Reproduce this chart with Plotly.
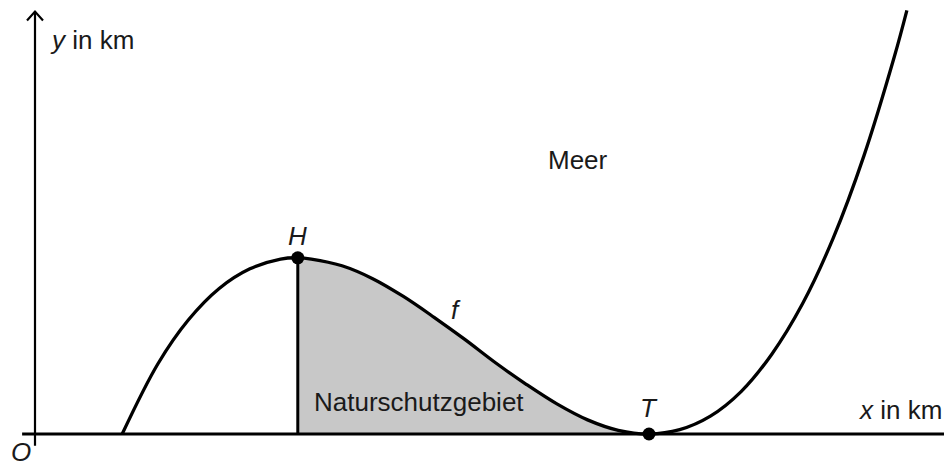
import plotly.graph_objects as go

# points (x in km, y in km)
x_curve = [1.42, 2.0, 2.5, 3.0, 3.5, 4.0, 4.28, 4.5, 5.0, 5.5, 6.0, 6.5, 7.0, 7.5,
           8.0, 8.5, 9.0, 9.5, 10.0, 10.5, 11.0, 11.5, 12.0, 12.5, 13.0, 13.5, 14.0, 14.2]
y_curve = [0.0, 1.14, 1.86, 2.37, 2.69, 2.85, 2.87, 2.85, 2.74, 2.53, 2.24, 1.90, 1.54, 1.16,
           0.81, 0.49, 0.23, 0.06, 0.0, 0.07, 0.29, 0.69, 1.30, 2.12, 3.19, 4.53, 6.16, 6.90]

# high point H and low point T
h_x, h_y = 4.28, 2.87
t_x, t_y = 10.0, 0.0

font = "Liberation Sans, Arial, sans-serif"
fs = 26
k = 61.4  # px per km, only used to size the arrow heads

# shaded area between H and T
x_area = [x for x in x_curve if h_x <= x <= t_x]
y_area = [y for x, y in zip(x_curve, y_curve) if h_x <= x <= t_x]

fig = go.Figure()
fig.add_trace(go.Scatter(x=x_area, y=y_area, mode="lines", line=dict(width=0, shape="spline"),
                         fill="tozeroy", fillcolor="#c8c8c8", hoverinfo="skip"))
fig.add_trace(go.Scatter(x=[h_x, h_x], y=[0, h_y], mode="lines",
                         line=dict(color="black", width=3), hoverinfo="skip"))
fig.add_trace(go.Scatter(x=x_curve, y=y_curve, mode="lines",
                         line=dict(color="black", width=3.3, shape="spline")))
fig.add_trace(go.Scatter(x=[h_x, t_x], y=[h_y, t_y], mode="markers",
                         marker=dict(color="black", size=13)))

# axes with open arrow heads
y_top, x_right = 6.88, 15.0
fig.add_shape(type="line", x0=0, x1=0, y0=-0.19, y1=y_top, line=dict(color="black", width=2.2))
fig.add_shape(type="line", x0=-0.21, x1=x_right, y0=0, y1=0, line=dict(color="black", width=3))
fig.add_shape(type="path", line=dict(color="black", width=2.2),
              path=f"M {-8/k} {y_top-9/k} L 0 {y_top} L {8/k} {y_top-9/k}")
fig.add_shape(type="path", line=dict(color="black", width=2.2),
              path=f"M {x_right-9/k} {7/k} L {x_right} 0 L {x_right-9/k} {-7/k}")

labels = [
    (0.93, 6.42, "<i>y</i> in km"),
    (14.08, 0.39, "<i>x</i> in km"),
    (-0.22, -0.29, "<i>O</i>"),
    (h_x, 3.22, "<i>H</i>"),
    (t_x, 0.42, "<i>T</i>"),
    (6.86, 2.02, "<i>f</i>"),
    (8.84, 4.46, "Meer"),
    (6.25, 0.52, "Naturschutzgebiet"),
]
for lx, ly, txt in labels:
    fig.add_annotation(x=lx, y=ly, text=txt, showarrow=False,
                       font=dict(family=font, size=fs, color="#1a1a1a"))

# page body has an 8px margin, so the ranges are shifted to compensate
fig.update_layout(
    width=952, height=464,
    margin=dict(l=0, r=0, t=0, b=0),
    plot_bgcolor="white", paper_bgcolor="white",
    showlegend=False,
    xaxis=dict(range=[(8 - 35) / k, (960 - 35) / k], visible=False, fixedrange=True),
    yaxis=dict(range=[(434 - 472) / k, (434 - 8) / k], visible=False, fixedrange=True),
)

fig.write_html("out.html")
